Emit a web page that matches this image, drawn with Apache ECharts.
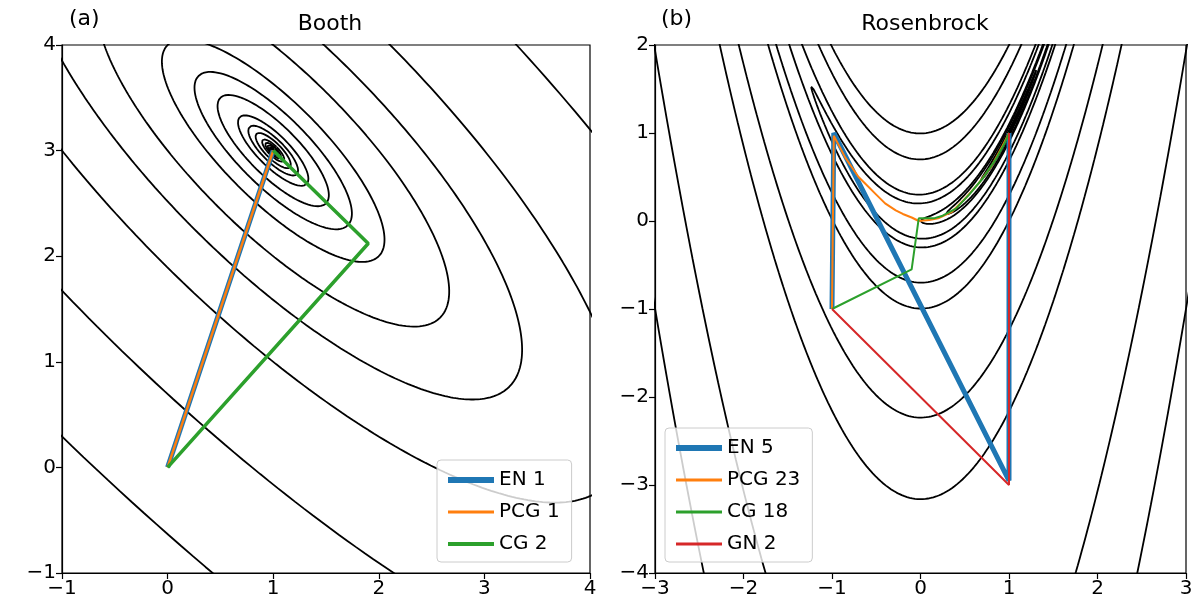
<!DOCTYPE html>
<html><head><meta charset="utf-8">
<script src="https://cdn.jsdelivr.net/npm/echarts@6/dist/echarts.min.js"></script>
<style>body{margin:0}#c{width:1200px;height:613px}</style></head>
<body><div id="c"></div>
<script>
// contour levels
const boothLevels = [0.001,0.002,0.005,0.01,0.02,0.05,0.1,0.2,0.5,1,2,5,10,20,50,100,200,500,1000];
const rosenLevels = [0.001,0.005,0.01,0.05,0.1,0.5,1,5,10,50,100,500,1000,5000,10000];
// optimizer paths
const boothEN = [[0,0],[1,3]];
const boothPCG = [[0,0],[1,3]];
const boothCG = [[0,0],[1.9,2.12],[1,3]];
const rosenEN = [[-1,-1],[-0.98,1.0],[1,-2.95],[1,1]];
const rosenPCG = [[-1,-1],[-0.98,0.97],[-0.85,0.72],[-0.7,0.5],[-0.62,0.42],[-0.5,0.3],[-0.4,0.2],[-0.28,0.12],[-0.2,0.08],[-0.1,0.04],[-0.02,0.0],[0.1,0.01],[0.2,0.03],[0.35,0.1],[0.5,0.25],[0.65,0.42],[0.8,0.62],[0.92,0.84],[1,1]];
const rosenCG = [[-1,-1],[-0.1,-0.55],[-0.02,0.03],[0.15,0.03],[0.25,0.06],[0.4,0.14],[0.55,0.3],[0.7,0.48],[0.85,0.7],[0.95,0.88],[1,1]];
const rosenGN = [[-1,-1],[1,-3],[1,1]];

function boothContour(L){
  const pts=[];const N=400;
  for(let i=0;i<=N;i++){const t=2*Math.PI*i/N;
    const p=Math.sqrt(L)/3*Math.cos(t), q=Math.sqrt(L)*Math.sin(t);
    const u=(p+q)/Math.SQRT2, v=(p-q)/Math.SQRT2; pts.push([1+u,3+v]);}
  return pts;
}
function rosenContour(L){
  const pts=[];const N=20000;let lastNull=false;
  for(let i=0;i<=N;i++){const t=2*Math.PI*i/N;
    const x=1-Math.sqrt(L)*Math.cos(t), y=x*x+Math.sqrt(L)*Math.sin(t)/10;
    if(x>=-3.6&&x<=3.6&&y>=-5&&y<=3){pts.push([x,y]);lastNull=false;}
    else if(!lastNull){pts.push([null,null]);lastNull=true;}
  }
  return pts;
}
const fmt=v=>String(v).replace('-','\u2212');
const series=[];
boothLevels.forEach(L=>series.push({type:'line',xAxisIndex:0,yAxisIndex:0,data:boothContour(L),showSymbol:false,silent:true,lineStyle:{color:'#000',width:1.8},z:1}));
rosenLevels.forEach(L=>series.push({type:'line',xAxisIndex:1,yAxisIndex:1,data:rosenContour(L),showSymbol:false,silent:true,connectNulls:false,lineStyle:{color:'#000',width:1.8},z:1}));
function path(name,d,ax,color,w,z){series.push({name,type:'line',xAxisIndex:ax,yAxisIndex:ax,data:d,symbol:'none',lineStyle:{color,width:w},itemStyle:{color},z});}
path('EN 1',boothEN,0,'#1f77b4',5,3);
path('PCG 1',boothPCG,0,'#ff7f0e',2.5,4);
path('CG 2',boothCG,0,'#2ca02c',3.5,4);
path('EN 5',rosenEN,1,'#1f77b4',5,3);
path('PCG 23',rosenPCG,1,'#ff7f0e',2,4);
path('CG 18',rosenCG,1,'#2ca02c',2,4);
path('GN 2',rosenGN,1,'#d62728',2,5);
const axisCommon={type:'value',splitLine:{show:false},axisLine:{show:true,onZero:false,lineStyle:{color:'#000',width:1.2}},
  axisTick:{show:true,inside:false,length:6,lineStyle:{color:'#000',width:1.2}},
  axisLabel:{color:'#000',fontSize:20,fontFamily:'DejaVu Sans',formatter:fmt,margin:6}};
const font='DejaVu Sans';
const legendCommon={orient:'vertical',backgroundColor:'rgba(255,255,255,0.8)',borderColor:'#ccc',borderWidth:1,borderRadius:4,
  padding:[10,12,8,8],itemWidth:46,itemHeight:14,itemGap:12,itemStyle:{opacity:0},textStyle:{fontSize:20,fontFamily:font,color:'#000'}};
const li=(name,w)=>({name,lineStyle:{width:w}});
const chart=echarts.init(document.getElementById('c'));
chart.setOption({animation:false,backgroundColor:'#fff',
  title:[{text:'Booth',left:325,top:8,textAlign:'center',textStyle:{fontSize:22,fontWeight:'normal',fontFamily:font,color:'#000'}},
    {text:'Rosenbrock',left:920,top:8,textAlign:'center',textStyle:{fontSize:22,fontWeight:'normal',fontFamily:font,color:'#000'}},
    {text:'(a)',left:64,top:3,textStyle:{fontSize:22,fontWeight:'normal',fontFamily:font,color:'#000'}},
    {text:'(b)',left:656,top:3,textStyle:{fontSize:22,fontWeight:'normal',fontFamily:font,color:'#000'}}],
  grid:[{left:62,top:45,width:528,height:528,show:true,borderColor:'#000',borderWidth:1.2},
        {left:655,top:45,width:531,height:528,show:true,borderColor:'#000',borderWidth:1.2}],
  xAxis:[Object.assign({},axisCommon,{gridIndex:0,min:-1,max:4,interval:1}),Object.assign({},axisCommon,{gridIndex:1,min:-3,max:3,interval:1})],
  yAxis:[Object.assign({},axisCommon,{gridIndex:0,min:-1,max:4,interval:1}),Object.assign({},axisCommon,{gridIndex:1,min:-4,max:2,interval:1})],
  legend:[Object.assign({},legendCommon,{left:437,top:460,data:[li('EN 1',6),li('PCG 1',3),li('CG 2',4)]}),
          Object.assign({},legendCommon,{left:665,top:428,data:[li('EN 5',6),li('PCG 23',3),li('CG 18',3),li('GN 2',3)]})],
  series});
</script></body></html>
